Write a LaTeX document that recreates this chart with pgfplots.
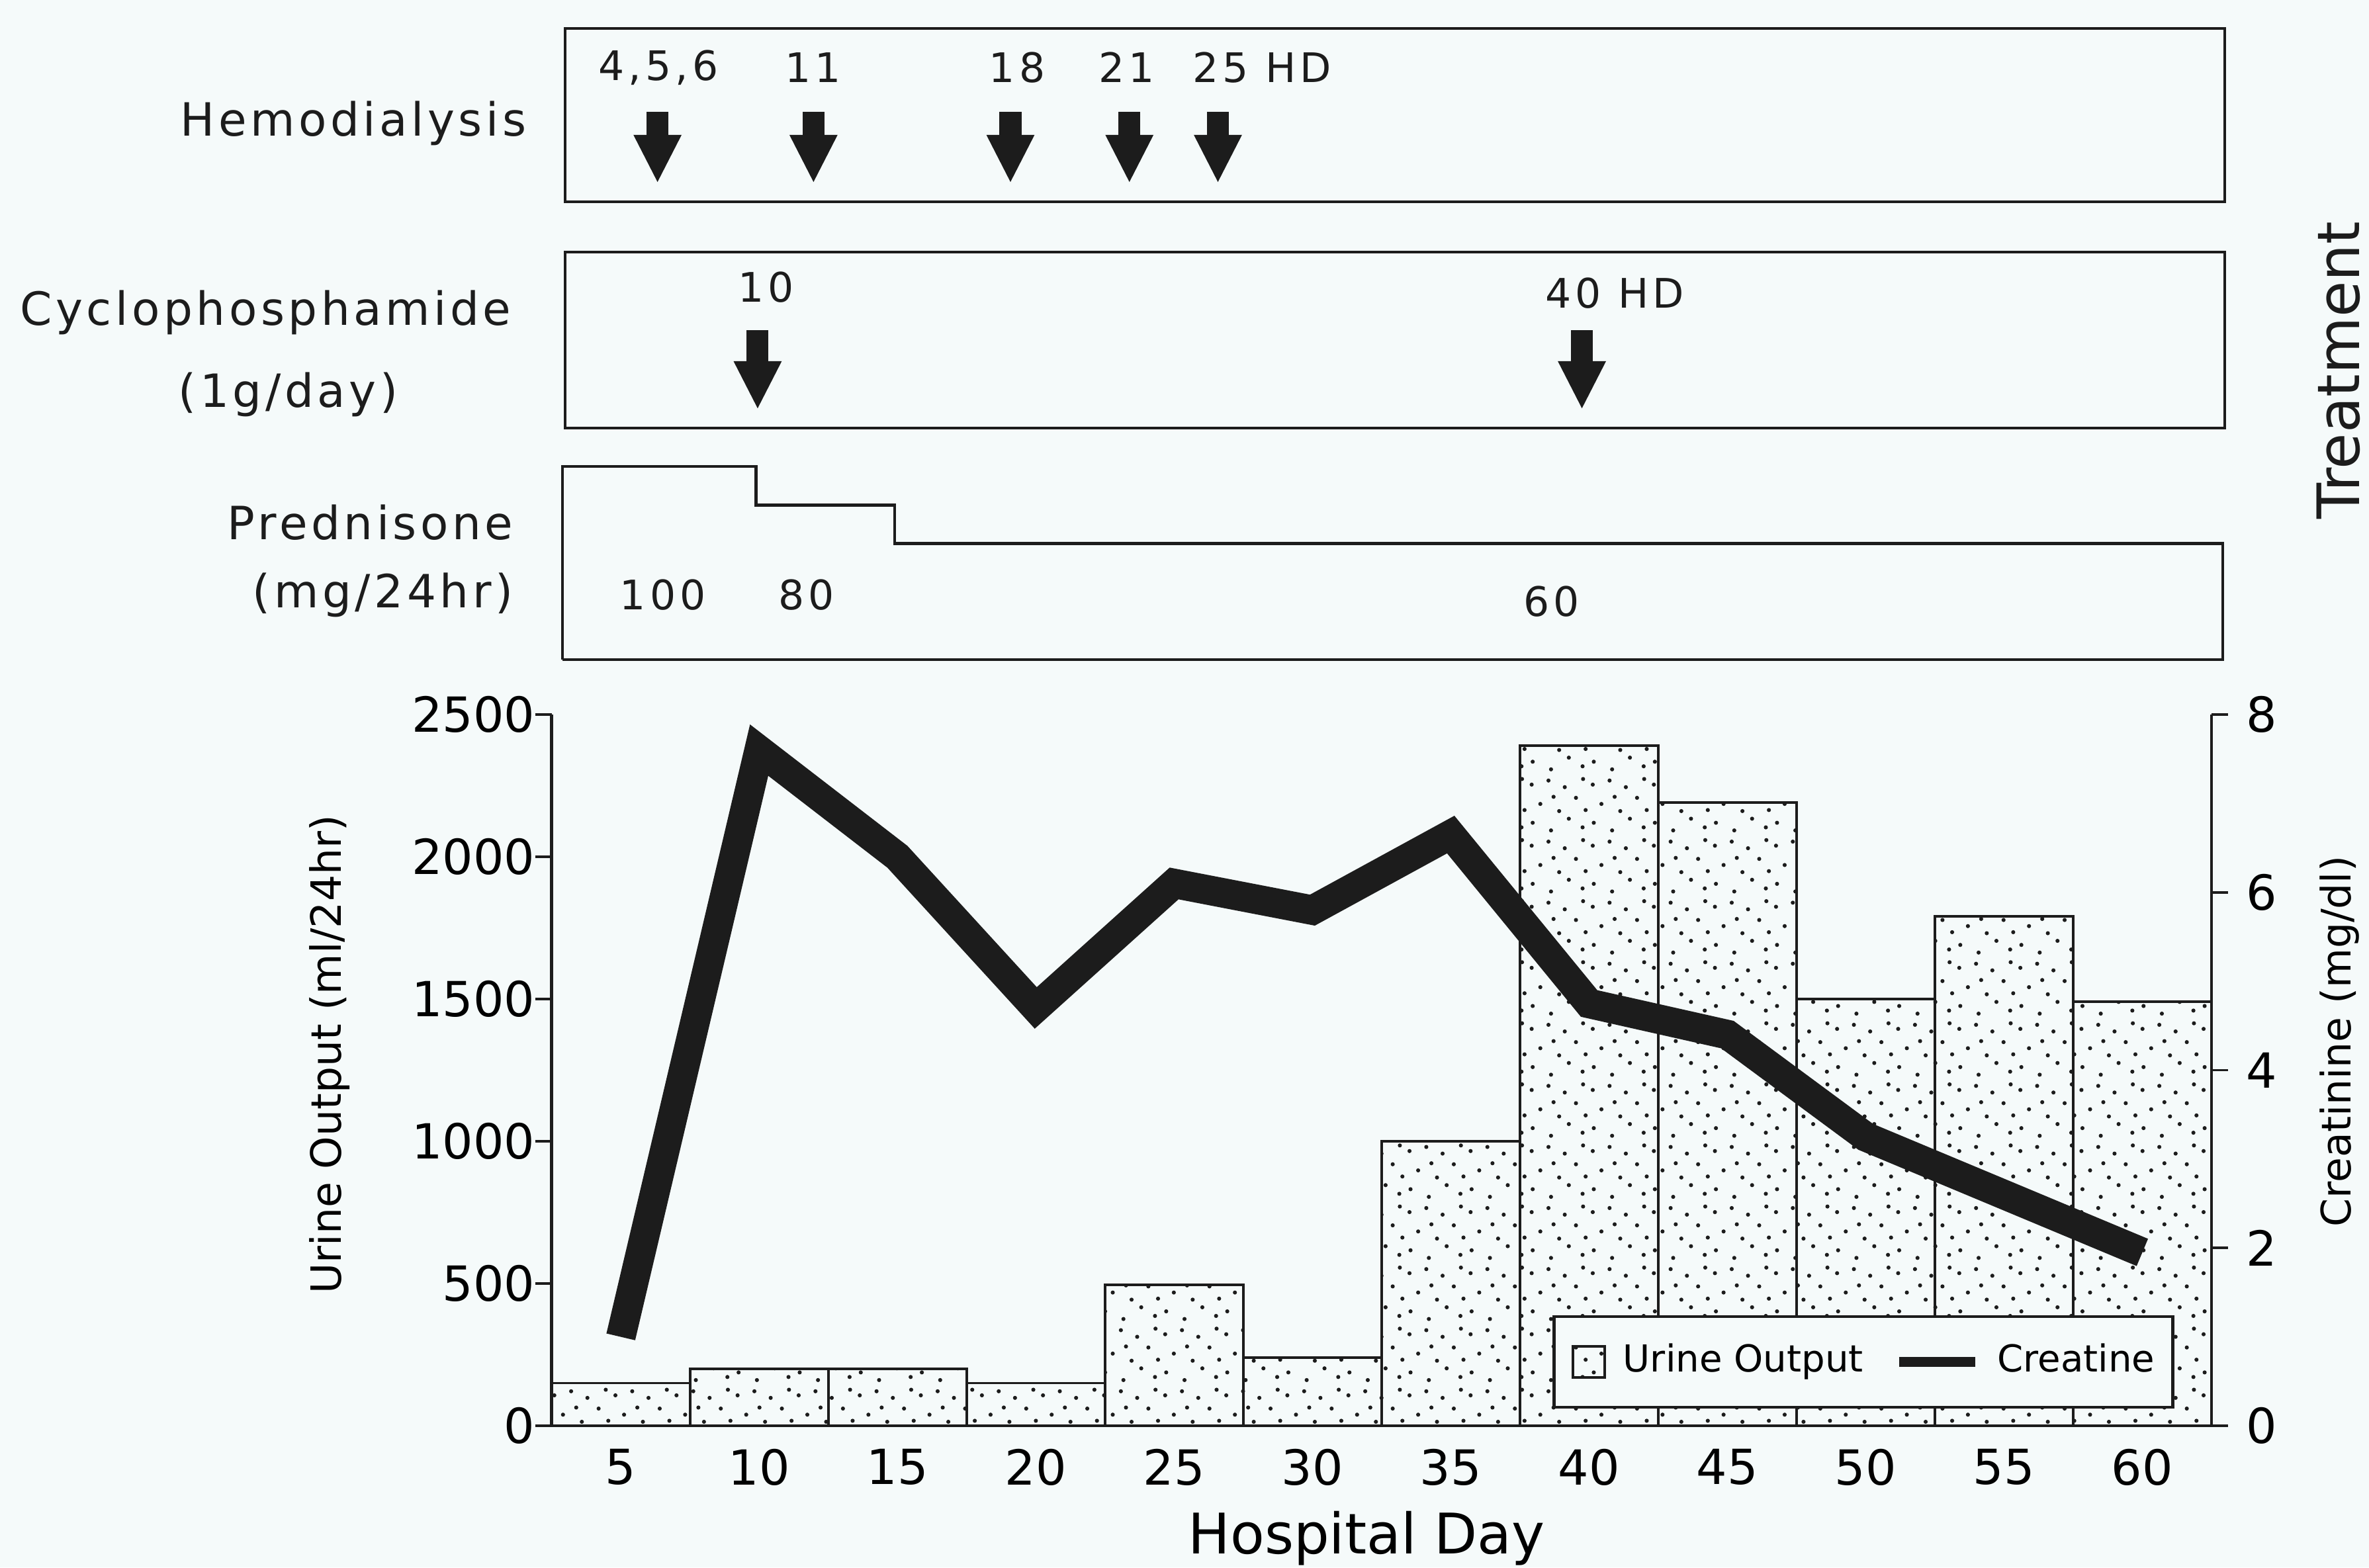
\documentclass[border=0pt]{standalone}
\usepackage{fontspec}
\setmainfont{DejaVu Sans}
\newfontfamily\spacedfont{DejaVu Sans}[LetterSpace=8]
\newfontfamily\numfont{DejaVu Sans}[LetterSpace=10]
\usepackage{pgfplots}
\pgfplotsset{compat=1.18}
\usetikzlibrary{patterns,arrows.meta}
\definecolor{bg}{RGB}{245,250,250}
\definecolor{ink}{RGB}{28,28,28}
\pgfdeclarepatternformonly{stipple}{\pgfqpoint{-0.5pt}{-0.5pt}}{\pgfqpoint{12.5pt}{12.5pt}}{\pgfqpoint{12pt}{12pt}}{%
  \pgfpathcircle{\pgfqpoint{1.1pt}{2.3pt}}{0.4pt}
  \pgfpathcircle{\pgfqpoint{4.7pt}{0.8pt}}{0.4pt}
  \pgfpathcircle{\pgfqpoint{8.2pt}{3.1pt}}{0.4pt}
  \pgfpathcircle{\pgfqpoint{10.9pt}{1.4pt}}{0.4pt}
  \pgfpathcircle{\pgfqpoint{2.6pt}{6.0pt}}{0.4pt}
  \pgfpathcircle{\pgfqpoint{6.3pt}{4.6pt}}{0.4pt}
  \pgfpathcircle{\pgfqpoint{9.6pt}{7.2pt}}{0.4pt}
  \pgfpathcircle{\pgfqpoint{0.9pt}{9.8pt}}{0.4pt}
  \pgfpathcircle{\pgfqpoint{4.2pt}{10.6pt}}{0.4pt}
  \pgfpathcircle{\pgfqpoint{7.4pt}{9.3pt}}{0.4pt}
  \pgfpathcircle{\pgfqpoint{11.0pt}{10.9pt}}{0.4pt}
  \pgfpathcircle{\pgfqpoint{5.2pt}{7.4pt}}{0.4pt}
  \pgfpathcircle{\pgfqpoint{11.5pt}{4.8pt}}{0.4pt}
  \pgfusepath{fill}}
\begin{document}
\begin{tikzpicture}
\fill[bg] (0,0) rectangle (465.4pt,307.97pt);
\useasboundingbox (0,0) rectangle (465.4pt,307.97pt);

% ---------- main chart: urine output bars ----------
\begin{axis}[
  at={(108.37pt,27.82pt)}, anchor=south west, scale only axis,
  width=326.09pt, height=139.75pt,
  xmin=2.5, xmax=62.5, ymin=0, ymax=2500,
  axis y line*=left, axis x line*=bottom,
  xtick={5,10,...,60}, ytick={0,500,...,2500},
  tick align=outside, major tick length=3.25pt,
  x tick style={draw=none},
  every tick/.style={ink, line width=0.5pt},
  tick label style={font=\fontsize{9.5}{10}\selectfont, /pgf/number format/assume math mode=true},
  y tick label style={xshift=3.5pt},
  x tick label style={yshift=2.2pt},
  /pgf/number format/1000 sep={},
  axis line style={ink, line width=0.6pt, -},
  ylabel={Urine Output (ml/24hr)}, xlabel={Hospital Day},
  ylabel style={at={(axis description cs:-0.1338,0.522)}, anchor=center, font=\fontsize{8.2}{9}\selectfont},
  xlabel style={at={(axis description cs:0.491,-0.18)}, anchor=base, font=\fontsize{11}{12}\selectfont},
]
\addplot[ybar, bar width=5, draw=ink, line width=0.5pt, pattern=stipple, pattern color=ink]
  coordinates {(5,150) (10,200) (15,200) (20,150) (25,495) (30,240) (35,1000) (40,2390) (45,2190) (50,1500) (55,1790) (60,1490)};
\end{axis}

% ---------- main chart: creatinine line ----------
\begin{axis}[
  at={(108.37pt,27.82pt)}, anchor=south west, scale only axis,
  width=326.09pt, height=139.75pt,
  xmin=2.5, xmax=62.5, ymin=0, ymax=8,
  axis y line*=right, axis x line=none,
  ytick={0,2,...,8},
  tick align=outside, major tick length=3.25pt,
  every tick/.style={ink, line width=0.5pt},
  tick label style={font=\fontsize{9.5}{10}\selectfont, /pgf/number format/assume math mode=true},
  axis line style={ink, line width=0.6pt, -},
  ylabel={Creatinine (mg/dl)},
  ylabel style={at={(axis description cs:1.0771,0.5405)}, anchor=center, font=\fontsize{8}{9}\selectfont},
  legend style={at={(axis description cs:0.6029,0.024)}, anchor=south west,
    draw=ink, line width=0.6pt, fill=bg, font=\fontsize{7.3}{8}\selectfont,
    legend columns=2, inner xsep=3.5pt, inner ysep=5.5pt,
    /tikz/column sep=3.4pt,
    /tikz/every even column/.append style={column sep=6pt},
    nodes={inner sep=0pt, text height=5.3pt, text depth=1.5pt}},
]
\addlegendimage{legend image code/.code={\draw[pattern=stipple, pattern color=ink, draw=ink, line width=0.5pt] (0pt,-3.1pt) rectangle (6.2pt,3.1pt);}}
\addlegendentry{Urine Output}
\addplot[ink, line width=5.8pt, line join=miter, line cap=butt, mark=none,
  legend image code/.code={\draw[ink, line width=2pt] (0pt,0pt) -- (15pt,0pt);}]
  coordinates {(5,1.0) (10,7.6) (15,6.4) (20,4.7) (25,6.1) (30,5.8) (35,6.65) (40,4.75) (45,4.4) (50,3.25) (55,2.6) (60,1.95)};
\addlegendentry{Creatine}
\end{axis}

% ---------- Hemodialysis panel ----------
\begin{axis}[
  at={(111.02pt,268.32pt)}, anchor=south west, scale only axis,
  width=326.04pt, height=34.06pt,
  xmin=2.5, xmax=62.5, ymin=0, ymax=1,
  xtick=\empty, ytick=\empty, clip=false,
  axis line style={ink, line width=0.6pt},
]
\addplot[ink, quiver={u=0, v=-0.412}, line width=4.3pt, line cap=butt,
  -{Triangle[length=9.5pt, width=8.7pt]}]
  coordinates {(5.84,0.519) (11.48,0.519) (18.6,0.519) (22.9,0.519) (26.1,0.519)};
\node[font=\numfont\fontsize{8}{9}\selectfont, ink] at (axis cs:5.87,0.775) {4,5,6};
\node[font=\numfont\fontsize{8}{9}\selectfont, ink] at (axis cs:11.47,0.775) {11};
\node[font=\numfont\fontsize{8}{9}\selectfont, ink] at (axis cs:18.84,0.775) {18};
\node[font=\numfont\fontsize{8}{9}\selectfont, ink] at (axis cs:22.81,0.775) {21};
\node[font=\numfont\fontsize{8}{9}\selectfont, ink, anchor=west, inner sep=0pt] at (axis cs:25.15,0.775) {25 HD};
\end{axis}

% ---------- Cyclophosphamide panel ----------
\begin{axis}[
  at={(111.02pt,223.86pt)}, anchor=south west, scale only axis,
  width=326.04pt, height=34.58pt,
  xmin=2.5, xmax=62.5, ymin=0, ymax=1,
  xtick=\empty, ytick=\empty, clip=false,
  axis line style={ink, line width=0.6pt},
]
\addplot[ink, quiver={u=0, v=-0.451}, line width=4.3pt, line cap=butt,
  -{Triangle[length=9.5pt, width=8.7pt]}]
  coordinates {(9.46,0.556) (39.26,0.556)};
\node[font=\numfont\fontsize{8}{9}\selectfont, ink] at (axis cs:9.77,0.80) {10};
\node[font=\numfont\fontsize{8}{9}\selectfont, ink, anchor=west, inner sep=0pt] at (axis cs:37.9,0.767) {40 HD};
\end{axis}

% ---------- Prednisone panel ----------
\begin{axis}[
  at={(110.5pt,178.36pt)}, anchor=south west, scale only axis,
  width=326.17pt, height=37.96pt,
  xmin=2.5, xmax=62.5, ymin=0, ymax=100,
  hide axis, clip=false,
]
\addplot[const plot, ink, line width=0.6pt]
  coordinates {(2.5,0) (2.5,100) (9.5,80) (14.5,60) (62.5,60) (62.5,0) (2.5,0)};
\node[font=\numfont\fontsize{8}{9}\selectfont, ink] at (axis cs:6.13,33.6) {100};
\node[font=\numfont\fontsize{8}{9}\selectfont, ink] at (axis cs:11.32,33.6) {80};
\node[font=\numfont\fontsize{8}{9}\selectfont, ink] at (axis cs:38.25,30.1) {60};
\end{axis}

% ---------- row labels ----------
\node[font=\spacedfont\fontsize{9}{10}\selectfont, ink, anchor=base east, inner sep=0pt] at (103.6pt,281.3pt) {Hemodialysis};
\node[font=\spacedfont\fontsize{9}{10}\selectfont, ink, anchor=base east, inner sep=0pt] at (100.6pt,244.1pt) {Cyclophosphamide};
\node[font=\spacedfont\fontsize{9}{10}\selectfont, ink, anchor=base, inner sep=0pt] at (56.6pt,227.9pt) {(1g/day)};
\node[font=\spacedfont\fontsize{9}{10}\selectfont, ink, anchor=base east, inner sep=0pt] at (101pt,201.9pt) {Prednisone};
\node[font=\spacedfont\fontsize{9}{10}\selectfont, ink, anchor=base east, inner sep=0pt] at (101pt,188.6pt) {(mg/24hr)};
\node[font=\fontsize{11.5}{12}\selectfont, ink, rotate=90, anchor=center, inner sep=0pt] at (459.4pt,235.2pt) {Treatment};
\end{tikzpicture}
\end{document}
